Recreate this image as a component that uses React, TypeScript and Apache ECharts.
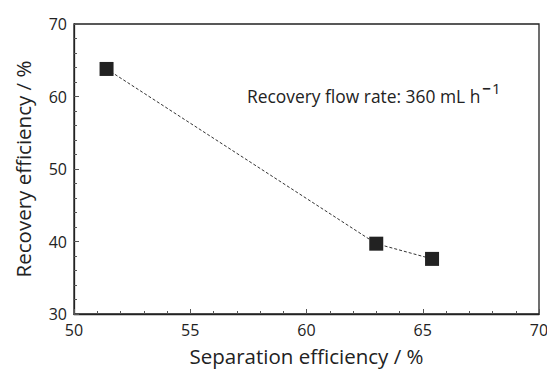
import React, { useEffect, useRef } from "react";
import * as echarts from "echarts";

const separationEfficiency = [51.4, 63.0, 65.4];
const recoveryEfficiency = [63.8, 39.7, 37.6];
const xAxisTitle = "Separation efficiency / %";
const yAxisTitle = "Recovery efficiency / %";

export default function App() {
  const ref = useRef<HTMLDivElement>(null);
  useEffect(() => {
    if (!ref.current) return;
    const chart = echarts.init(ref.current, undefined, { renderer: "svg" });
    const font = "'Open Sans', 'Noto Sans', sans-serif";
    const axisCommon = {
      axisLine: { show: true, onZero: false, lineStyle: { color: "#222", width: 1.3 } },
      axisTick: { show: true, inside: true, length: 5, lineStyle: { color: "#555", width: 1 } },
      minorTick: { show: true, splitNumber: 5, length: 3, lineStyle: { color: "#555", width: 1 } },
      splitLine: { show: false },
      axisLabel: { color: "#222", fontSize: 16, fontFamily: font },
      nameTextStyle: { color: "#222", fontSize: 20.5, fontFamily: font },
      nameLocation: "middle" as const,
    };
    chart.setOption({
      animation: false,
      backgroundColor: "#fff",
      grid: {
        left: 74, top: 24, width: 465, height: 290,
        containLabel: false,
        outerBoundsMode: "none",
        show: true, borderColor: "#222", borderWidth: 1.3, backgroundColor: "transparent",
      },
      xAxis: {
        ...axisCommon,
        type: "value", min: 50, max: 70, interval: 5,
        name: xAxisTitle, nameGap: 31,
        axisLabel: { ...axisCommon.axisLabel, margin: 8 },
      },
      yAxis: {
        ...axisCommon,
        type: "value", min: 30, max: 70, interval: 10,
        name: yAxisTitle, nameGap: 41,
        axisLabel: { ...axisCommon.axisLabel, margin: 7 },
      },
      graphic: [
        {
          type: "text", left: 247, top: 80,
          style: {
            text: "{a|Recovery flow rate: 360 mL h}{m|−}{s|1}",
            rich: {
              a: { fontSize: 17.4, fontFamily: font, fill: "#222", verticalAlign: "bottom", lineHeight: 24 },
              m: { fontSize: 15, fontWeight: "bold", fontFamily: font, fill: "#222", verticalAlign: "top", lineHeight: 24, padding: [0, 0, 10, 2] },
              s: { fontSize: 15, fontFamily: font, fill: "#222", verticalAlign: "top", lineHeight: 24, padding: [0, 0, 10, 1] },
            },
          },
        },
      ],
      series: [
        {
          type: "line",
          data: separationEfficiency.map((x, i) => [x, recoveryEfficiency[i]]),
          symbol: "rect", symbolSize: 14,
          itemStyle: { color: "#222" },
          lineStyle: { color: "#333", width: 1, type: [3, 2] },
        },
      ],
    });
    return () => chart.dispose();
  }, []);
  return <div ref={ref} style={{ position: "fixed", left: 0, top: 0, width: 547, height: 369 }} />;
}
